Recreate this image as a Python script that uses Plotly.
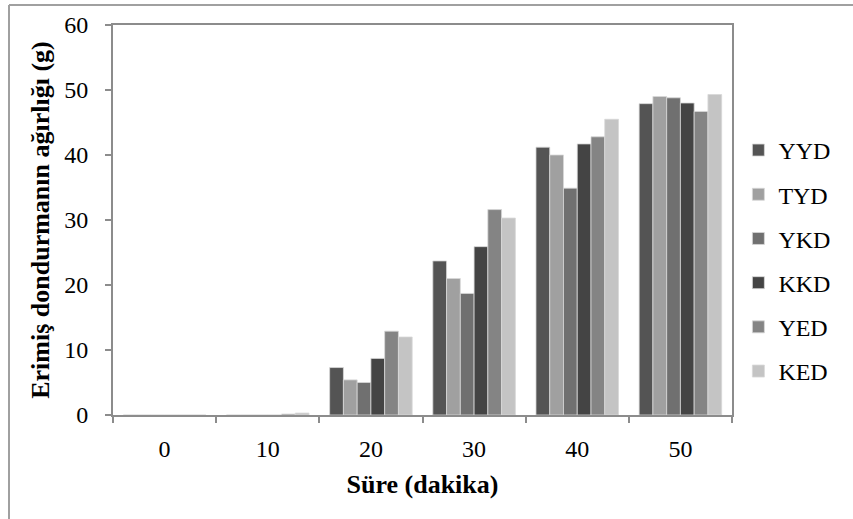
import plotly.graph_objects as go

categories = ["0", "10", "20", "30", "40", "50"]
series_names = ["YYD", "TYD", "YKD", "KKD", "YED", "KED"]
YYD = [0, 0, 7.3, 23.7, 41.2, 47.9]
TYD = [0, 0, 5.4, 21.0, 40.0, 49.0]
YKD = [0, 0, 5.0, 18.7, 34.9, 48.8]
KKD = [0, 0, 8.7, 25.9, 41.7, 48.0]
YED = [0, 0.15, 12.9, 31.6, 42.8, 46.7]
KED = [0, 0.3, 12.0, 30.3, 45.5, 49.3]
series_values = [YYD, TYD, YKD, KKD, YED, KED]
colors = ["#545454", "#a0a0a0", "#707070", "#444444", "#848484", "#c4c4c4"]
y_ticks = [0, 10, 20, 30, 40, 50, 60]

font_family = "Liberation Serif"

fig = go.Figure()
for name, vals, col in zip(series_names, series_values, colors):
    fig.add_trace(go.Bar(
        x=categories, y=vals, name=name, legendgroup=name,
        marker=dict(color=col, line=dict(color="#d8d8d8", width=0.8)),
    ))

fig.update_layout(
    width=853, height=519,
    margin=dict(l=113, r=121, t=25, b=104),
    paper_bgcolor="white", plot_bgcolor="white",
    barmode="group", bargap=0.2, bargroupgap=0,
    font=dict(family=font_family, size=24, color="black"),
    showlegend=True,
    legend=dict(x=1.0103, xanchor="left", y=0.736, yanchor="top",
                font=dict(size=24, family=font_family, color="black"),
                tracegroupgap=10, itemwidth=30,
                bgcolor="rgba(0,0,0,0)"),
    xaxis=dict(
        type="category", tickson="boundaries", ticks="outside", ticklen=6,
        tickcolor="#8c8c8c", tickwidth=1.5,
        showline=True, linecolor="#8c8c8c", linewidth=2, mirror=True,
        showgrid=False, ticklabelstandoff=11,
        title=dict(text="<b>Süre (dakika)</b>", standoff=14,
                   font=dict(size=26, family=font_family, color="black")),
        tickfont=dict(size=24, family=font_family, color="black"),
    ),
    yaxis=dict(
        range=[0, 60], tickvals=y_ticks, ticks="outside", ticklen=6,
        tickcolor="#8c8c8c", tickwidth=1.5,
        showline=True, linecolor="#8c8c8c", linewidth=2, mirror=True,
        showgrid=False, zeroline=False, ticklabelstandoff=12,
        title=dict(text="<b>Erimiş dondurmanın ağırlığı (g)</b>", standoff=7,
                   font=dict(size=26, family=font_family, color="black")),
        tickfont=dict(size=24, family=font_family, color="black"),
    ),
)

# outer frame lines (left and top)
fig.add_shape(type="line", xref="paper", yref="paper",
              x0=-104 / 619, x1=-104 / 619, y0=-104 / 390, y1=1 + 20 / 390,
              line=dict(color="#a0a0a0", width=2))
fig.add_shape(type="line", xref="paper", yref="paper",
              x0=-104 / 619, x1=1 + 121 / 619, y0=1 + 20 / 390, y1=1 + 20 / 390,
              line=dict(color="#a0a0a0", width=2))

fig.write_html("out.html")
